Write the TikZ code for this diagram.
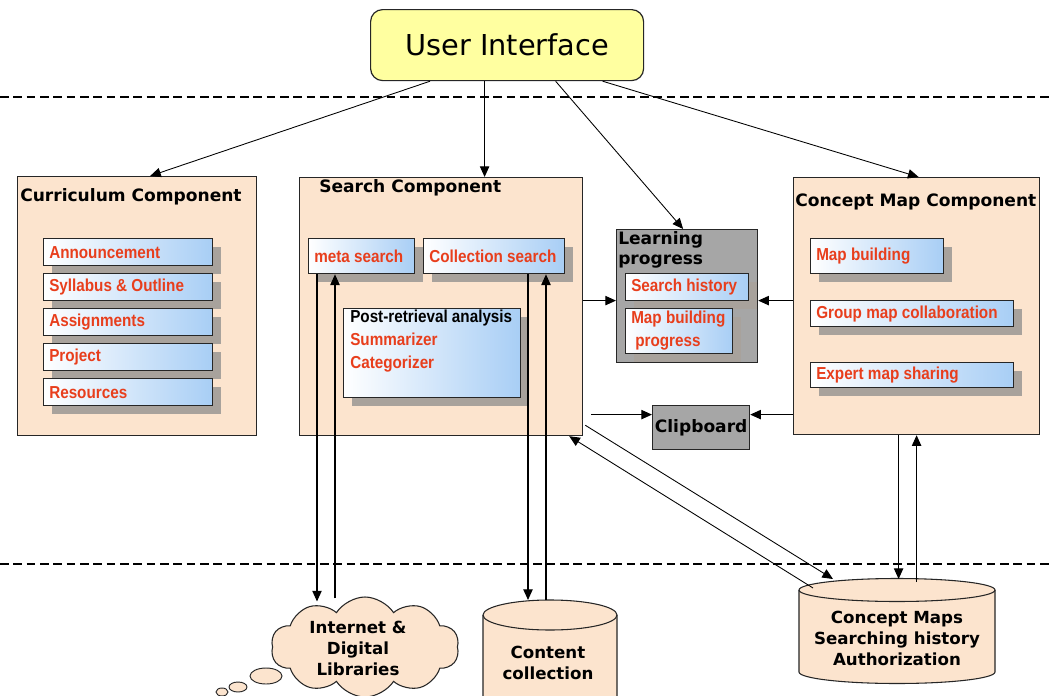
\documentclass[tikz,border=0pt]{standalone}
\usepackage{fontspec}
\usetikzlibrary{arrows.meta,shapes.symbols,shapes.geometric,shadows,calc}
\newfontfamily\uifont{DejaVu Sans}
\newfontfamily\itemfont[FakeStretch=0.88]{Liberation Sans}

\definecolor{peach}{RGB}{252,228,206}
\definecolor{uiyellow}{RGB}{255,255,160}
\definecolor{itemred}{RGB}{232,62,28}
\definecolor{itemblue}{RGB}{168,206,245}
\definecolor{panelgray}{RGB}{166,166,166}
\definecolor{shadowgray}{RGB}{168,162,156}

\tikzset{
  px/.style 2 args={minimum width=#1*0.75pt, minimum height=#2*0.75pt},
  comp/.style={draw=black!85, line width=0.9pt, fill=peach, anchor=north west, inner sep=0pt},
  panel/.style={draw=black!85, line width=0.9pt, fill=panelgray, anchor=north west, inner sep=0pt},
  itembox/.style={draw=black!85, line width=1pt, left color=white, right color=itemblue,
    anchor=north west, inner sep=0pt,
    drop shadow={shadow xshift=6pt, shadow yshift=-6pt, fill=shadowgray, opacity=1}},
  itemtext/.style={font=\itemfont\bfseries\fontsize{13}{17}\selectfont, text=itemred,
    anchor=west, inner sep=0pt, align=left},
  title/.style={font=\uifont\bfseries\fontsize{12.8}{15}\selectfont, anchor=west, inner sep=0pt},
  store/.style={font=\uifont\bfseries\fontsize{12.5}{15.8}\selectfont, align=center, inner sep=0pt},
  arr/.style={-{Triangle[length=8pt,width=7pt]}, line width=0.9pt},
  link/.style={-{Triangle[length=8pt,width=7pt]}, line width=0.65pt},
  sep/.style={dash pattern=on 6.5pt off 3.5pt, line width=0.8pt},
  drumline/.style={draw=black!85, fill=peach, line width=0.8pt},
  bubble/.style={draw=black!85, fill=peach, line width=0.7pt},
}

% an item box with its red label: name, x, y, width, height, text
\newcommand\mkitem[6]{%
  \node[itembox, px={#4}{#5}] (#1) at (#2,#3) {};
  \node[itemtext] (#1t) at ([xshift=4.5pt]#1.west) {#6};}

% a drum: left x, right x, top centre y, bottom centre y, half height of the ends
\newcommand\mkdrum[5]{%
  \path[drumline] (#1,#3) -- (#1,#4)
    arc[start angle=180, end angle=360, x radius={(#2-#1)*0.375pt}, y radius={#5*0.75pt}]
    -- (#2,#3)
    arc[start angle=0, end angle=180, x radius={(#2-#1)*0.375pt}, y radius={#5*0.75pt}]
    -- cycle;
  \draw[drumline, fill=none] (#1,#3)
    arc[start angle=180, end angle=360, x radius={(#2-#1)*0.375pt}, y radius={#5*0.75pt}];}

\begin{document}
\begin{tikzpicture}[x=0.75pt, y=-0.75pt]
\clip (0,0) rectangle (1053,696);
\fill[white] (0,0) rectangle (1053,696);

% layer separators
\coordinate (sepL1) at (0,97);   \coordinate (sepR1) at (1053,97);
\coordinate (sepL2) at (0,564);  \coordinate (sepR2) at (1053,564);
\draw[sep] (sepL1) -- (sepR1);
\draw[sep] (sepL2) -- (sepR2);

% user interface
\node[draw=black!85, line width=0.9pt, rounded corners=9pt, fill=uiyellow, px={273}{71},
      anchor=north west, inner sep=0pt, font=\uifont\fontsize{21.6}{25}\selectfont]
      (ui) at (370,9) {User Interface};

% components
\node[comp, px={239}{259}] (cur) at (17,176) {};
\node[title] (curt) at (20,197) {Curriculum Component};
\node[comp, px={283}{258}] (search) at (299,177) {};
\node[title] (searcht) at (319,188) {Search Component};
\node[comp, px={246}{257}] (concept) at (793,177) {};
\node[title] (conceptt) at (795,202) {Concept Map Component};

% learning progress and clipboard
\node[panel, px={141}{133}] (lp) at (616,229) {};
\node[title, anchor=north west, align=left] (lpt) at (618,231) {Learning\\progress};
\node[panel, px={97}{44}, font=\uifont\bfseries\fontsize{12.8}{15}\selectfont] (clip) at (652,405) {Clipboard};

% curriculum items
\mkitem{ann}{43}{238}{169}{27}{Announcement}
\mkitem{syl}{43}{273}{169}{27}{Syllabus \& Outline}
\mkitem{asg}{43}{308}{169}{27}{Assignments}
\mkitem{prj}{43}{343}{169}{27}{Project}
\mkitem{res}{43}{378}{169}{27}{Resources}

% search items
\mkitem{meta}{308}{238}{106}{35}{meta search}
\mkitem{coll}{423}{238}{141}{35}{Collection search}
\node[itembox, px={177}{89}] (post) at (343,308) {};
\node[itemtext, anchor=north west] (postt) at (350,310)
  {{\color{black}Post-retrieval analysis}\\Summarizer\\Categorizer};

% learning progress items
\mkitem{hist}{625}{273}{123}{27}{Search history}
\node[itembox, px={107}{45}] (mbp) at (625,308) {};
\node[itemtext, anchor=north west] (mbpt) at ([xshift=4.5pt,yshift=-2pt]mbp.north west)
  {Map building\\\hspace{3pt}progress};

% concept map items
\mkitem{mapb}{810}{238}{133}{35}{Map building}
\mkitem{grp}{810}{300}{203}{26}{Group map collaboration}
\mkitem{exp}{810}{362}{203}{25}{Expert map sharing}

% stores
\node[cloud, cloud puffs=10, cloud puff arc=115, cloud ignores aspect, draw=black!85,
      fill=peach, line width=0.8pt, px={188}{100}, inner sep=0pt] (net) at (365,647) {};
\node[store] (nett) at (358,648) {Internet \&\\Digital\\Libraries};
\node[bubble, ellipse, px={32}{16}, inner sep=0pt] (b1) at (266,676) {};
\node[bubble, ellipse, px={18}{10}, inner sep=0pt] (b2) at (238,687) {};
\node[bubble, ellipse, px={12}{8}, inner sep=0pt] (b3) at (222,692) {};

\mkdrum{483}{617}{615}{712}{15}
\node[store] (cc) at (548,663) {Content\\collection};

\mkdrum{799}{995}{590}{672}{11.5}
\node[store] (db) at (897,638) {Concept Maps\\Searching history\\Authorization};

\coordinate (cctop) at (550,600);
\coordinate (dbtop) at (897,579);

% user interface to components
\draw[link] ($(ui.south)+(-77,0)$) -- ($(cur.north)+(13,0)$);
\coordinate (uiS) at ($(ui.south)+(-22.5,0)$);
\draw[arr] (uiS) -- (uiS |- search.north);
\draw[link] ($(ui.south)+(48.5,0)$) -- ($(lp.north)+(-4,0)$);
\draw[link] ($(ui.south)+(95.5,0)$) -- ($(concept.north)+(2,0)$);

% learning progress links
\coordinate (lpin) at ($(lp.west)+(0,4.5)$);
\draw[arr] (lpin -| search.east) -- (lpin);
\draw[arr] (lpin -| concept.west) -- (lp.east |- lpin);

% clipboard links
\coordinate (cbin) at ($(clip.west)+(0,-13)$);
\draw[arr] ($(search.east |- cbin)+(8,0)$) -- (cbin);
\draw[arr] (cbin -| concept.west) -- (clip.east |- cbin);

% meta search and internet
\coordinate (m1) at ($(meta.south west)+(9,0)$);
\coordinate (m2) at ($(meta.south west)+(27,0)$);
\draw[arr] (m1) -- ($(m1 |- net.north)+(0,5)$);
\draw[arr] ($(m2 |- net.north)+(0,2)$) -- (m2);

% collection search and content collection
\coordinate (c1) at ($(coll.south west)+(105,0)$);
\coordinate (c2) at ($(coll.south west)+(123,0)$);
\draw[arr] (c1) -- (c1 |- cctop);
\draw[arr] (c2 |- cctop) -- (c2);

% concept map component and its store
\coordinate (k1) at ($(concept.south)+(-18,0)$);
\coordinate (k2) at ($(concept.south)+(0,0)$);
\draw[arr] (k1) -- (k1 |- dbtop);
\draw[arr] ($(k2 |- dbtop)+(0,3)$) -- (k2);

% search component and the store
\coordinate (dA) at ($(search.south east)+(2,-11)$);
\coordinate (dB) at (833,579);
\coordinate (dC) at (813,588);
\draw[link] (dA) -- (dB);
\draw[link] (dC) -- ($(search.south east)+(-14,0)$);
\end{tikzpicture}
\end{document}
